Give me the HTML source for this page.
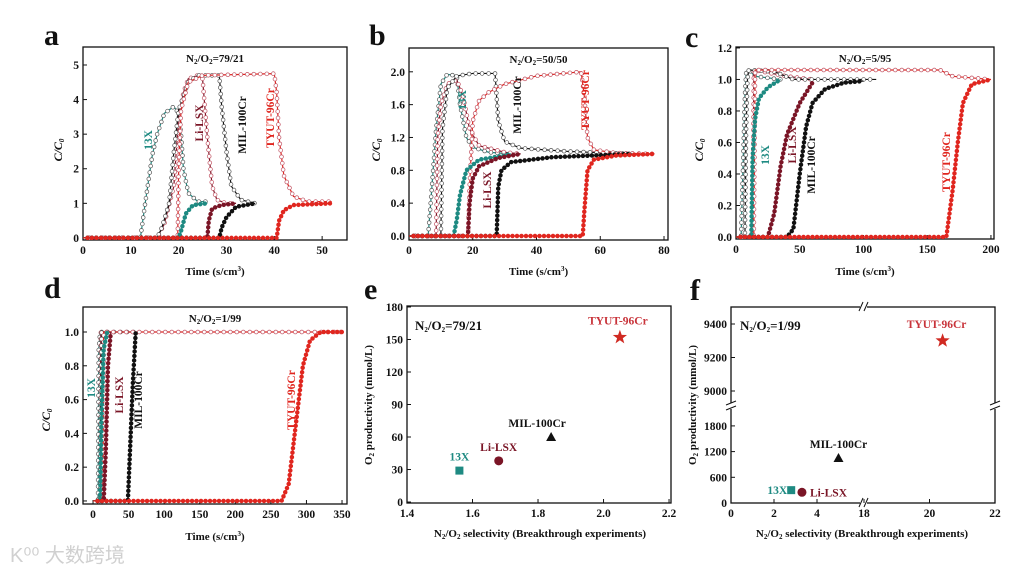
<!DOCTYPE html>
<html><head><meta charset="utf-8">
<style>
html,body{margin:0;padding:0;background:#fff;}
svg{display:block;font-family:"Liberation Serif","Noto Serif CJK SC",serif;}
</style></head>
<body>
<svg id="fig" width="1018" height="574" viewBox="0 0 1018 574" xmlns="http://www.w3.org/2000/svg"></svg>
<script>
// ---------- data ----------
const materials = ["13X","Li-LSX","MIL-100Cr","TYUT-96Cr"];
// panel a (N2/O2=79/21): O2 roll-up [time, C/C0] and N2 breakthrough
const aO2_13X=[[0,0],[12,0],[13,1],[14.5,2.4],[15.5,3],[17,3.6],[19,3.8],[20,3.6],[20.5,3],[21,2],[22,1.3],[24,1.05],[26,1.05]];
const aN2_13X=[[0,0],[20,0],[20.5,0.2],[21.5,0.7],[23,0.95],[26,1.0]];
const aO2_LiLSX=[[0,0],[15.5,0],[17,0.4],[19,1.5],[20,3.5],[21,4.2],[22,4.6],[24,4.7],[25,4.6],[26,2.9],[27,1.5],[28,1.1],[30,1.0],[32,1]];
const aN2_LiLSX=[[0,0],[26,0],[26.3,0.5],[27,0.85],[29,0.95],[32,1.0]];
const aO2_MIL=[[0,0],[15.5,0],[16.5,0.3],[18,1.0],[19,2.5],[20,3.7],[22,4.5],[24,4.7],[28.5,4.7],[29,3.8],[30,2.5],[31,1.5],[33,1.1],[36,1.0]];
const aN2_MIL=[[0,0],[28.5,0],[29,0.3],[30,0.6],[32,0.9],[36,1.0]];
const aO2_TYUT=[[0,0],[19.8,0],[20,2],[20.5,3.7],[22,4.5],[25,4.7],[40,4.75],[40.5,4.2],[41,2.9],[42,1.8],[44,1.2],[47,1.05],[52,1.05]];
const aN2_TYUT=[[0,0],[40.5,0],[41,0.5],[42,0.8],[44,0.95],[52,1.0]];
// panel b (50/50)
const bO2_13X=[[0,0],[6,0],[7,0.5],[8.5,1.3],[10,1.85],[12,1.97],[15,1.95],[16,1.6],[18,1.2],[20,1.08],[25,1.02],[32,1.0]];
const bN2_13X=[[0,0],[14,0],[15,0.2],[16,0.5],[18,0.8],[22,0.93],[30,0.98],[32,1]];
const bO2_LiLSX=[[0,0],[8.5,0],[9,1.2],[10,1.6],[12,1.85],[15,1.9],[17,1.7],[19,1.3],[22,1.1],[30,1.02],[35,1]];
const bN2_LiLSX=[[0,0],[18.5,0],[19,0.4],[20,0.7],[22,0.85],[28,0.95],[35,1]];
const bO2_MIL=[[0,0],[10,0],[10.5,1.3],[12,1.8],[15,1.95],[20,1.98],[27,1.98],[28,1.4],[30,1.15],[35,1.07],[50,1.03],[70,1.0]];
const bN2_MIL=[[0,0],[27.5,0],[28,0.6],[29,0.8],[32,0.9],[45,0.96],[70,1.0]];
const bO2_TYUT=[[0,0],[18.5,0],[19,0.6],[20,1.4],[22,1.65],[25,1.75],[30,1.85],[40,1.95],[54,2.0],[55,1.7],[56,1.2],[58,1.05],[65,1.01],[77,1.0]];
const bN2_TYUT=[[0,0],[54.5,0],[55,0.3],[56,0.8],[58,0.93],[65,0.98],[77,1]];
// panel c (5/95)
const cO2_13X=[[0,0],[4,0],[5,0.3],[6,0.6],[7,0.9],[8,1.05],[10,1.06],[15,1.02],[35,1.0]];
const cN2_13X=[[0,0],[12,0],[13,0.5],[15,0.75],[18,0.88],[25,0.95],[35,1.0]];
const cO2_LiLSX=[[0,0],[13,0],[14,1.06],[40,1.02],[60,1.0]];
const cN2_LiLSX=[[0,0],[25,0],[30,0.15],[35,0.45],[40,0.65],[50,0.85],[60,0.98]];
const cO2_MIL=[[0,0],[7,0],[8,0.7],[9,1.0],[10,1.06],[30,1.05],[45,1.0],[110,1.0]];
const cN2_MIL=[[0,0],[40,0],[45,0.05],[50,0.4],[55,0.7],[60,0.85],[70,0.94],[85,0.98],[100,0.99]];
const cO2_TYUT=[[0,0],[14,0],[15,1.06],[160,1.06],[170,1.02],[200,1.0]];
const cN2_TYUT=[[0,0],[165,0],[170,0.3],[174,0.6],[178,0.85],[185,0.97],[200,1.0]];
// panel d (1/99)
const dO2_13X=[[0,0],[7,0],[8,0.9],[10,1.0],[20,1.0]];
const dN2_13X=[[0,0],[10,0],[12,0.5],[15,0.9],[20,1.0]];
const dO2_LiLSX=[[0,0],[10,0],[11,1.0],[25,1.0]];
const dN2_LiLSX=[[0,0],[15,0],[18,0.3],[21,0.8],[25,1.0]];
const dO2_MIL=[[0,0],[10,0],[12,1.0],[60,1.0]];
const dN2_MIL=[[0,0],[49,0],[52,0.3],[56,0.7],[60,1.0]];
const dO2_TYUT=[[0,0],[14,0],[15,1.0],[350,1.0]];
const dN2_TYUT=[[0,0],[265,0],[275,0.1],[285,0.45],[295,0.8],[305,0.95],[320,1.0],[350,1.0]];
// panel e (79/21)
const eSelectivity=[1.56,1.68,1.84,2.05];
const eProductivity=[29,38,60,152];
// panel f (1/99)
const fSelectivity=[2.8,3.3,5.0,20.4];
const fProductivity=[300,250,1050,9300];
// tick labels
const aXTicks=[0,10,20,30,40,50], aYTicks=[0,1,2,3,4,5];
const bXTicks=[0,20,40,60,80], bYTicks=[0,0.4,0.8,1.2,1.6,2.0];
const cXTicks=[0,50,100,150,200], cYTicks=[0,0.2,0.4,0.6,0.8,1.0,1.2];
const dXTicks=[0,50,100,150,200,250,300,350], dYTicks=[0,0.2,0.4,0.6,0.8,1.0];
const eXTicks=[1.4,1.6,1.8,2.0,2.2], eYTicks=[0,30,60,90,120,150,180];
const fXTicksLow=[0,2,4], fXTicksHigh=[18,20,22], fYTicksLow=[0,600,1200,1800], fYTicksHigh=[9000,9200,9400];

// ---------- drawing ----------
const NS="http://www.w3.org/2000/svg";
const svg=document.getElementById('fig');
const COL={"13X":"#1e8a82","Li-LSX":"#7a1526","MIL-100Cr":"#111111","TYUT-96Cr":"#e0261f"};
function mk(tag,attrs,parent){const e=document.createElementNS(NS,tag);for(const k in attrs)e.setAttribute(k,attrs[k]);(parent||svg).appendChild(e);return e;}
function txt(s,x,y,size,opt,parent){opt=opt||{};const t=mk('text',{x:x,y:y,'font-size':size,'font-weight':opt.w||'bold','text-anchor':opt.a||'middle',fill:opt.fill||'#111'},parent);
 if(opt.rot)t.setAttribute('transform','rotate('+opt.rot+' '+x+' '+y+')');if(opt.italic)t.setAttribute('font-style','italic');t.innerHTML=s;return t;}
function fmt(v,d){return d?v.toFixed(d):String(v);}

function panel(id,box,xd,yd,xt,yt,xdec,ydec){
 const g=mk('g',{});
 
 
 const [L,T,R,B]=box;
 const sx=v=>L+(v-xd[0])/(xd[1]-xd[0])*(R-L);
 const sy=v=>B-(v-yd[0])/(yd[1]-yd[0])*(B-T);
 const frame=mk('rect',{x:L,y:T,width:R-L,height:B-T,fill:'none',stroke:'#111','stroke-width':1.3},g);
 
 
 const xa=mk('g',{},g);
 
 
 xt.forEach(v=>{const x=sx(v);mk('line',{x1:x,x2:x,y1:B,y2:B-4,stroke:'#111'},xa);
  const t=txt(fmt(v,xdec),x,B+14,11.5,{},xa);
  
  });
 const ya=mk('g',{},g);
 
 
 yt.forEach(v=>{const y=sy(v);mk('line',{x1:L,x2:L+4,y1:y,y2:y,stroke:'#111'},ya);
  const t=txt(fmt(v,ydec),L-4,y+4,11.5,{a:'end'},ya);
  
  });
 return {g,sx,sy,box};
}
function curve(p,pts,mat,open){
 const g=mk('g',{'clip-path':'url(#clip-'+p.id+')'},p.g);
 
 
 const P=pts.map(q=>[p.sx(q[0]),p.sy(q[1])]);
 const col=COL[mat];
 mk('polyline',{points:P.map(q=>q.join(',')).join(' '),fill:'none',stroke:col,'stroke-width':1.2},g);
 let acc=0;const step=open?6.5:4.5;
 for(let i=1;i<P.length;i++){const dx=P[i][0]-P[i-1][0],dy=P[i][1]-P[i-1][1];const len=Math.hypot(dx,dy);
  let s=step-acc;while(s<=len){const x=P[i-1][0]+dx*s/len,y=P[i-1][1]+dy*s/len;
   mk('circle',{cx:x,cy:y,r:1.9,fill:open?'#fff':col,stroke:open?(mat==='TYUT-96Cr'||mat==='Li-LSX'?'#c05060':'#555'):col,'stroke-width':0.7},g);s+=step;}
  acc=(acc+len)%step;}
}
const defs=mk('defs',{});
function clip(id,box){const c=mk('clipPath',{id:'clip-'+id},defs);mk('rect',{x:box[0],y:box[1]-3,width:box[2]-box[0],height:box[3]-box[1]+3},c);}

function bt(id,box,xd,yd,xt,yt,ydec,series,title,xl,yl){
 clip(id,box);const p=panel(id,box,xd,yd,xt,yt,0,ydec);p.id=id;
 series.forEach(s=>curve(p,s[0],s[1],s[2]));
 const t=txt(title,(box[0]+box[2])/2,box[1]+15,11);
 
 
 const x=txt('Time (s/cm<tspan font-size="7" dy="-4">3</tspan><tspan dy="4">)</tspan>',(box[0]+box[2])/2,xl,11);
 
 
 const y=txt('C/C<tspan font-size="7" dy="2">0</tspan>',yl[0],yl[1],12,{rot:-90,italic:true});
 
 
 return p;
}
const N2O2=(a)=>'N<tspan font-size="7" dy="2">2</tspan><tspan dy="-2">/O</tspan><tspan font-size="7" dy="2">2</tspan><tspan dy="-2">='+a+'</tspan>';

bt('a',[83,47,347,240],[0,55.2],[-0.06,5.52],aXTicks,aYTicks,0,
 [[aO2_13X,'13X',1],[aO2_LiLSX,'Li-LSX',1],[aO2_MIL,'MIL-100Cr',1],[aO2_TYUT,'TYUT-96Cr',1],
  [aN2_13X,'13X',0],[aN2_LiLSX,'Li-LSX',0],[aN2_MIL,'MIL-100Cr',0],[aN2_TYUT,'TYUT-96Cr',0]],N2O2('79/21'),275,[62,150]);
bt('b',[409,48,668,240],[0,81.25],[-0.049,2.29],bXTicks,bYTicks,1,
 [[bO2_13X,'13X',1],[bO2_LiLSX,'Li-LSX',1],[bO2_MIL,'MIL-100Cr',1],[bO2_TYUT,'TYUT-96Cr',1],
  [bN2_13X,'13X',0],[bN2_LiLSX,'Li-LSX',0],[bN2_MIL,'MIL-100Cr',0],[bN2_TYUT,'TYUT-96Cr',0]],N2O2('50/50'),275,[380,150]);
bt('c',[736,47,994,239],[0,202.4],[-0.0127,1.206],cXTicks,cYTicks,1,
 [[cO2_13X,'13X',1],[cO2_LiLSX,'Li-LSX',1],[cO2_MIL,'MIL-100Cr',1],[cO2_TYUT,'TYUT-96Cr',1],
  [cN2_13X,'13X',0],[cN2_LiLSX,'Li-LSX',0],[cN2_MIL,'MIL-100Cr',0],[cN2_TYUT,'TYUT-96Cr',0]],N2O2('5/95'),275,[703,150]);
bt('d',[83,307,347,504],[-14.1,357],[-0.018,1.148],dXTicks,dYTicks,1,
 [[dO2_13X,'13X',1],[dO2_LiLSX,'Li-LSX',1],[dO2_MIL,'MIL-100Cr',1],[dO2_TYUT,'TYUT-96Cr',1],
  [dN2_13X,'13X',0],[dN2_LiLSX,'Li-LSX',0],[dN2_MIL,'MIL-100Cr',0],[dN2_TYUT,'TYUT-96Cr',0]],N2O2('1/99'),540,[50,420]);

function rl(s,x,y,m){const t=txt(s,x,y,11.5,{rot:-90,fill:COL[m]});}
rl('13X',152,140,'13X');rl('Li-LSX',203,123,'Li-LSX');rl('MIL-100Cr',246,125,'MIL-100Cr');rl('TYUT-96Cr',274,118,'TYUT-96Cr');
rl('13X',466,100,'13X');rl('MIL-100Cr',521,105,'MIL-100Cr');rl('TYUT-96Cr',589,100,'TYUT-96Cr');rl('Li-LSX',491,190,'Li-LSX');
rl('13X',769,155,'13X');rl('Li-LSX',796,145,'Li-LSX');rl('MIL-100Cr',815,165,'MIL-100Cr');rl('TYUT-96Cr',950,162,'TYUT-96Cr');
rl('13X',95,388,'13X');rl('Li-LSX',123,395,'Li-LSX');rl('MIL-100Cr',142,400,'MIL-100Cr');rl('TYUT-96Cr',295,400,'TYUT-96Cr');

function marker(g,i,x,y){const c=COL[materials[i]];let e;
 if(i===0)e=mk('rect',{x:x-4,y:y-4,width:8,height:8,fill:c},g);
 else if(i===1)e=mk('circle',{cx:x,cy:y,r:4.5,fill:c},g);
 else if(i===2)e=mk('polygon',{points:`${x},${y-5} ${x+5},${y+4} ${x-5},${y+4}`,fill:c},g);
 else{let p=[];for(let k=0;k<10;k++){const r=k%2?3:7.5,a=-Math.PI/2+k*Math.PI/5;p.push((x+r*Math.cos(a)).toFixed(1)+','+(y+r*Math.sin(a)).toFixed(1));}
  e=mk('polygon',{points:p.join(' '),fill:'#d02a22'},g);}
 
 }
const SEL='N<tspan font-size="7" dy="2">2</tspan><tspan dy="-2">/O</tspan><tspan font-size="7" dy="2">2</tspan><tspan dy="-2"> selectivity (Breakthrough experiments)</tspan>';
const PROD='O<tspan font-size="7" dy="2">2</tspan><tspan dy="-2"> productivity (mmol/L)</tspan>';

const pe=panel('e',[407,306,671,503],[1.4,2.206],[-0.9,180.9],eXTicks,eYTicks,1,0);
const eLabOff=[[0,-10],[0,-10],[-14,-10],[-2,-13]];
eSelectivity.forEach((v,i)=>{const x=pe.sx(v),y=pe.sy(eProductivity[i]);marker(pe.g,i,x,y);
 const t=txt(materials[i],x+eLabOff[i][0],y+eLabOff[i][1],11.5,{fill:i===3?'#c8333a':COL[materials[i]]},pe.g);
 
 });
{const t=txt(N2O2('79/21'),415,330,13,{a:'start'},pe.g);}
{const t=txt(SEL,540,537,11);}
{const t=txt(PROD,372,405,11,{rot:-90});}

(function(){const L=731,T=307,R=995,B=503,BX=864,BY=406;
 const g=mk('g',{});
 const sx=v=>v<=6.2?L+v*21.5:BX+(v-18)*32.75;
 const sy=v=>v<=2300?B-v*(25.7/600):391-(v-9000)*(33.5/200);
 const fr=mk('rect',{x:L,y:T,width:R-L,height:B-T,fill:'none',stroke:'#111','stroke-width':1.3},g);
 
 [[L,BY],[R,BY]].forEach(q=>{mk('rect',{x:q[0]-5,y:q[1]-3,width:10,height:6,fill:'#fff'},g);
  mk('line',{x1:q[0]-5,y1:q[1]-1,x2:q[0]+5,y2:q[1]-5,stroke:'#111'},g);mk('line',{x1:q[0]-5,y1:q[1]+4,x2:q[0]+5,y2:q[1]},g).setAttribute('stroke','#111');});
 [[BX,T],[BX,B]].forEach(q=>{mk('rect',{x:q[0]-4,y:q[1]-5,width:7,height:10,fill:'#fff'},g);
  mk('line',{x1:q[0]-5,y1:q[1]+4,x2:q[0]-1,y2:q[1]-5,stroke:'#111'},g);mk('line',{x1:q[0],y1:q[1]+4,x2:q[0]+4,y2:q[1]-5,stroke:'#111'},g);});
 fXTicksLow.concat(fXTicksHigh).forEach(v=>{const x=sx(v);mk('line',{x1:x,x2:x,y1:B,y2:B-4,stroke:'#111'},g);
  const t=txt(String(v),x,B+14,11.5,{},g);});
 fYTicksLow.concat(fYTicksHigh).forEach(v=>{const y=sy(v);mk('line',{x1:L,x2:L+4,y1:y,y2:y,stroke:'#111'},g);
  const t=txt(String(v),L-4,y+4,11.5,{a:'end'},g);});
 const off=[[-20,4,'end'],[8,4,'start'],[0,-10,'middle'],[-6,-13,'middle']];
 fSelectivity.forEach((v,i)=>{const x=sx(v),y=sy(fProductivity[i]);marker(g,i,x,y);
  const t=txt(materials[i],x+(i===0?-4:off[i][0]),y+off[i][1],11.5,{a:off[i][2],fill:i===3?'#c8333a':COL[materials[i]]},g);
  });
 const c=txt(N2O2('1/99'),740,330,13,{a:'start'},g);
 const xt=txt(SEL,862,537,11);
 const yt=txt(PROD,696,405,11,{rot:-90});
})();

[['a',44,45],['b',369,45],['c',685,47],['d',44,298],['e',364,299],['f',690,300]].forEach(l=>{
 const t=txt(l[0],l[1],l[2],30,{a:'start'});});
{const t=txt('K⁰⁰ 大数跨境',10,562,20,{a:'start',w:'normal',fill:'#d0d0d0'});t.setAttribute('font-family','"Liberation Sans","Noto Sans CJK SC",sans-serif');
 }
</script>
</body></html>
